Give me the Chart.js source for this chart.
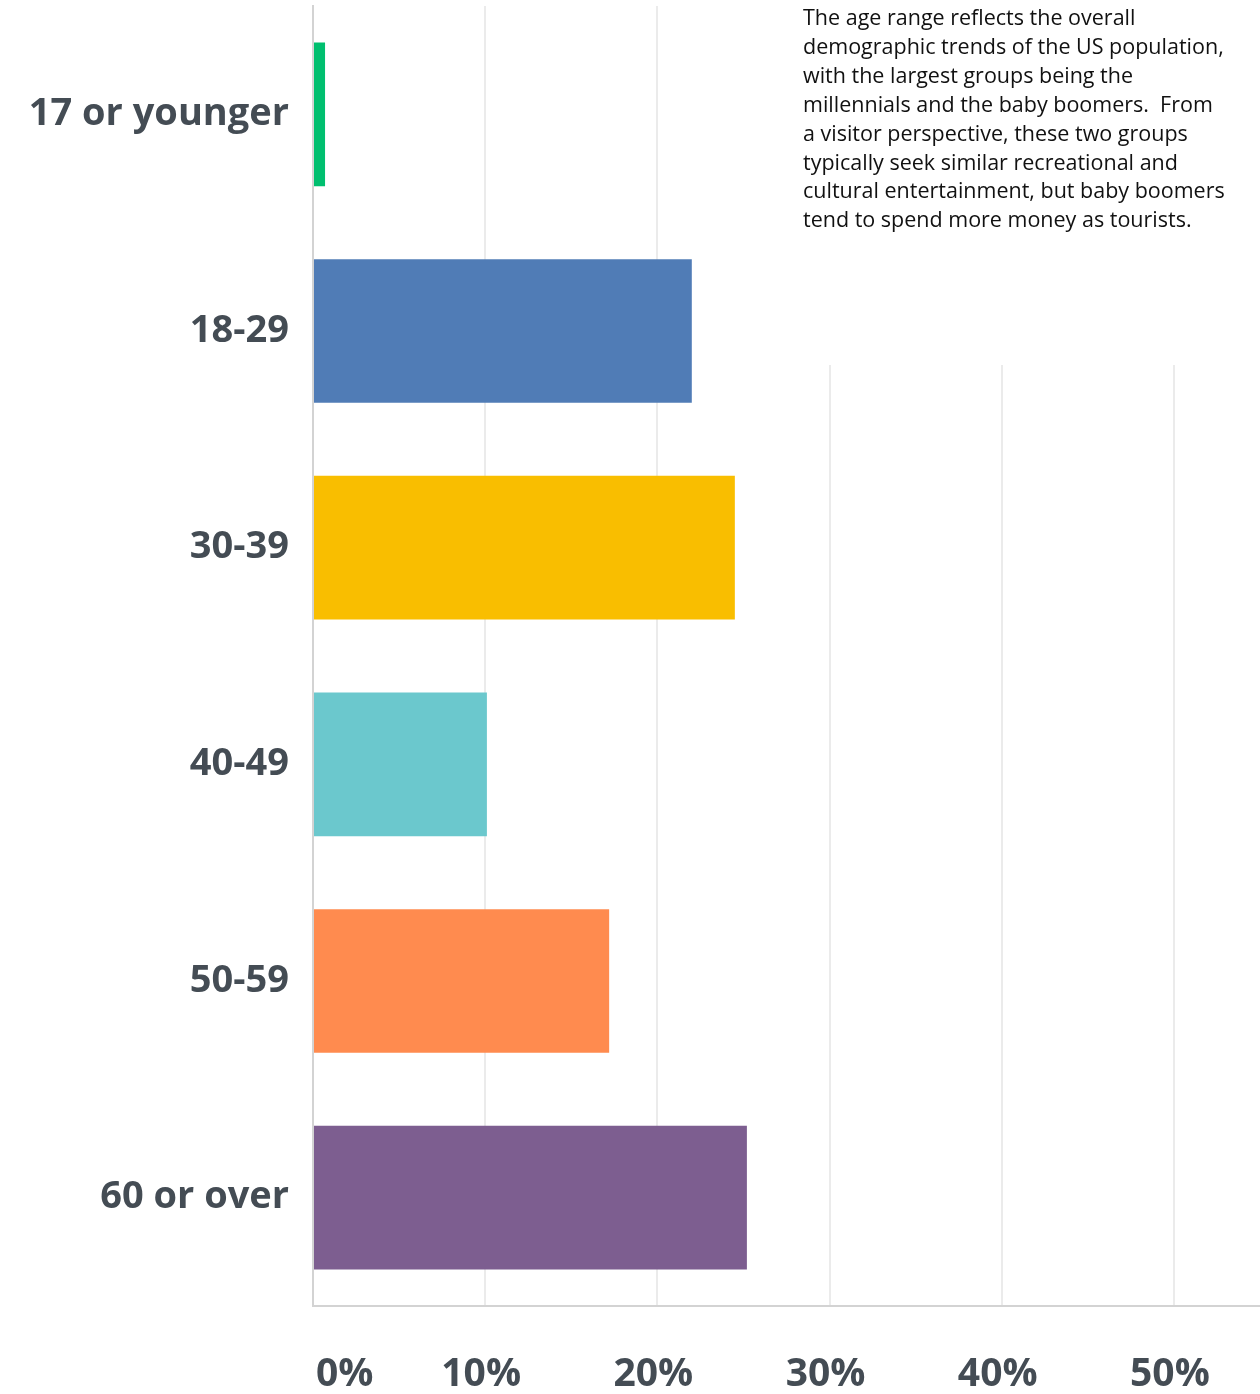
<!DOCTYPE html>
<html lang="en">
<head>
    <meta charset="UTF-8">
    <title>Age Range of Respondents</title>
    <script src="https://cdn.jsdelivr.net/npm/chart.js"></script>
    <style>
        html, body {
            margin: 0;
            padding: 0;
            background-color: #ffffff;
        }
        canvas {
            display: block;
        }
    </style>
</head>
<body>
    <canvas id="ageChart" width="1260" height="1394"></canvas>
    <script>
        // age groups and share of respondents (%)
        const ageGroups = ['17 or younger', '18-29', '30-39', '40-49', '50-59', '60 or over'];
        const sharePct = [0.7, 22.0, 24.5, 10.1, 17.2, 25.2];
        const barColors = ['#00bf6f', '#507cb6', '#f9be00', '#6bc8cd', '#ff8b4f', '#7d5e90'];

        // x axis ticks
        const tickValues = [0, 10, 20, 30, 40, 50];
        const tickLabels = ['0%', '10%', '20%', '30%', '40%', '50%'];

        // side note, one entry per line
        const noteLines = [
            'The age range reflects the overall',
            'demographic trends of the US population,',
            'with the largest groups being the',
            'millennials and the baby boomers.  From',
            'a visitor perspective, these two groups',
            'typically seek similar recreational and',
            'cultural entertainment, but baby boomers',
            'tend to spend more money as tourists.'
        ];

        const labelColor = '#444c54';

        // white panel behind the note, hides the grid lines under it
        const notePanel = {
            id: 'notePanel',
            beforeDatasetsDraw(chart) {
                const ctx = chart.ctx;
                ctx.save();
                ctx.fillStyle = '#ffffff';
                ctx.fillRect(760, 0, 500, 365);
                ctx.restore();
            },
            afterDraw(chart) {
                const ctx = chart.ctx;
                ctx.save();
                ctx.fillStyle = '#111111';
                ctx.font = '21.5px "Open Sans"';
                ctx.textAlign = 'left';
                ctx.textBaseline = 'alphabetic';
                noteLines.forEach((line, i) => {
                    ctx.fillText(line, 803, 25 + i * 28.9);
                });
                ctx.restore();
            }
        };

        // x tick labels; the first one sits to the right of the axis
        const xLabels = {
            id: 'xLabels',
            afterDraw(chart) {
                const ctx = chart.ctx;
                const xScale = chart.scales.x;
                ctx.save();
                ctx.fillStyle = labelColor;
                ctx.font = 'bold 39px "Open Sans"';
                ctx.textBaseline = 'alphabetic';
                tickValues.forEach((v, i) => {
                    const px = xScale.getPixelForValue(v);
                    if (i === 0) {
                        ctx.textAlign = 'left';
                        ctx.fillText(tickLabels[i], px + 3, 1386);
                    } else {
                        ctx.textAlign = 'center';
                        ctx.fillText(tickLabels[i], px - 4, 1386);
                    }
                });
                ctx.restore();
            }
        };

        const ctx = document.getElementById('ageChart').getContext('2d');
        new Chart(ctx, {
            type: 'bar',
            data: {
                labels: ageGroups,
                datasets: [{
                    data: sharePct,
                    backgroundColor: barColors,
                    borderWidth: 0,
                    categoryPercentage: 1.0,
                    barPercentage: 0.663
                }]
            },
            options: {
                indexAxis: 'y',
                responsive: false,
                animation: false,
                layout: {
                    padding: { top: 6, right: 0, bottom: 0, left: 0 }
                },
                scales: {
                    x: {
                        min: 0,
                        max: 55,
                        afterBuildTicks(scale) {
                            scale.ticks = tickValues.map(v => ({ value: v }));
                        },
                        afterFit(scale) {
                            scale.height = 88;
                        },
                        grid: {
                            color: '#ebebeb',
                            lineWidth: 2,
                            drawTicks: false
                        },
                        border: {
                            color: '#d3d3d3',
                            width: 2
                        },
                        ticks: {
                            display: false
                        }
                    },
                    y: {
                        afterFit(scale) {
                            scale.width = 313;
                            // no extra room above/below for the first and last label
                            scale.paddingTop = 0;
                            scale.paddingBottom = 0;
                        },
                        grid: {
                            display: false,
                            drawTicks: false
                        },
                        border: {
                            color: '#d3d3d3',
                            width: 2
                        },
                        ticks: {
                            color: labelColor,
                            padding: 24,
                            font: {
                                family: 'Open Sans',
                                size: 38,
                                weight: 'bold'
                            }
                        }
                    }
                },
                plugins: {
                    legend: { display: false },
                    tooltip: { enabled: false }
                }
            },
            plugins: [notePanel, xLabels]
        });
    </script>
</body>
</html>
